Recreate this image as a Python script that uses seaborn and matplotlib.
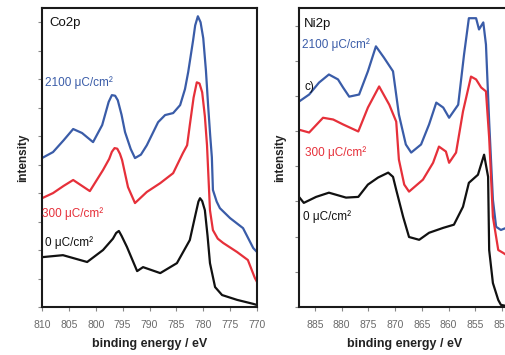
import matplotlib
matplotlib.use("Agg")
import matplotlib.pyplot as plt
import seaborn as sns
import pandas as pd

# ---------------- data: Co2p ----------------
co_blue_e = [810.0, 807.95, 806.0, 804.2, 802.55, 800.5, 798.8, 797.6, 797.0, 796.4, 795.9, 795.2,
             794.55, 793.5, 792.7, 791.6, 790.5, 788.4, 787.1, 785.6, 784.3, 783.4, 782.8, 781.9,
             781.5, 781.0, 780.5, 780.0, 779.5, 779.1, 778.7, 778.4, 778.2, 777.5, 776.9, 775.0,
             772.6, 770.7, 770.0]
co_blue_i = [5.23, 5.44, 5.85, 6.25, 6.11, 5.79, 6.39, 7.2, 7.44, 7.42, 7.26, 6.75,
             6.14, 5.55, 5.23, 5.35, 5.68, 6.49, 6.74, 6.81, 7.09, 7.65, 8.25, 9.35,
             9.89, 10.21, 10.0, 9.44, 8.3, 7.09, 6.0, 5.26, 4.11, 3.7, 3.47, 3.12,
             2.77, 2.07, 1.93]

co_red_e = [810.0, 807.95, 806.0, 804.2, 801.1, 798.65, 797.5, 797.0, 796.5, 796.0, 795.5, 795.1,
            794.0, 792.7, 790.5, 788.0, 785.6, 783.8, 783.0, 782.5, 781.8, 781.2, 780.7, 780.2,
            779.7, 779.3, 778.75, 778.2, 777.3, 776.3, 773.7, 771.7, 770.4, 770.0]
co_red_i = [3.82, 4.00, 4.25, 4.46, 4.07, 4.81, 5.2, 5.45, 5.58, 5.56, 5.38, 5.16,
            4.21, 3.65, 4.04, 4.35, 4.70, 5.40, 5.68, 6.39, 7.35, 7.89, 7.85, 7.54,
            6.7, 5.68, 3.40, 2.70, 2.4, 2.25, 1.93, 1.65, 1.02, 0.88]

co_black_e = [810.0, 806.1, 801.6, 798.65, 796.8, 796.2, 795.7, 795.2, 794.2, 792.3, 791.2, 788.0,
              784.9, 782.5, 781.5, 780.9, 780.6, 780.2, 779.7, 779.2, 778.75, 777.8, 776.5, 773.7,
              770.7, 770.0]
co_black_i = [1.75, 1.82, 1.58, 2.00, 2.4, 2.6, 2.67, 2.5, 2.11, 1.26, 1.40, 1.19,
              1.54, 2.35, 3.2, 3.7, 3.82, 3.72, 3.40, 2.5, 1.54, 0.70, 0.42, 0.25,
              0.11, 0.07]

# ---------------- data: Ni2p ----------------
ni_blue_e = [888.0, 886.1, 884.25, 882.4, 880.7, 879.75, 878.6, 876.75, 875.1, 873.6, 872.1, 870.4,
             869.3, 868.0, 867.0, 865.15, 863.65, 862.3, 861.0, 859.9, 858.2, 857.1, 856.2, 854.85,
             854.3, 853.5, 853.0, 852.4, 851.7, 851.1, 850.2, 849.2, 848.5]
ni_blue_i = [5.84, 6.04, 6.38, 6.61, 6.47, 6.24, 5.98, 6.04, 6.70, 7.41, 7.09, 6.70,
             5.47, 4.62, 4.39, 4.62, 5.19, 5.81, 5.67, 5.38, 5.75, 7.18, 8.21, 8.21,
             7.89, 8.09, 7.46, 5.27, 3.05, 2.28, 2.19, 2.25, 2.25]

ni_red_e = [888.0, 886.1, 883.5, 881.6, 879.75, 876.9, 875.1, 873.0, 871.1, 869.8, 869.3, 868.3,
            867.4, 864.8, 862.9, 861.8, 860.5, 859.9, 858.6, 857.3, 855.8, 854.85, 853.9, 853.0,
            852.4, 851.7, 850.7, 849.8, 849.2, 848.5]
ni_red_i = [5.04, 4.96, 5.38, 5.33, 5.19, 4.99, 5.67, 6.27, 5.75, 5.27, 4.19, 3.48,
            3.28, 3.62, 4.10, 4.56, 4.42, 4.10, 4.39, 5.56, 6.55, 6.47, 6.24, 6.13,
            4.81, 2.56, 1.62, 1.54, 1.48, 1.48]

ni_black_e = [888.0, 887.1, 884.8, 882.4, 879.2, 876.9, 875.1, 873.2, 871.3, 870.4, 869.8, 868.5,
              867.4, 865.5, 863.65, 861.0, 859.0, 857.3, 856.2, 854.5, 853.35, 852.6, 852.4, 851.7,
              850.7, 850.2, 849.2, 848.5]
ni_black_i = [3.13, 2.96, 3.13, 3.25, 3.11, 3.13, 3.48, 3.68, 3.82, 3.70, 3.33, 2.56,
              1.99, 1.91, 2.11, 2.25, 2.34, 2.85, 3.53, 3.76, 4.33, 3.70, 1.62, 0.68,
              0.20, 0.06, 0.03, 0.03]

dose_labels = ["2100 μC/cm²", "300 μC/cm²", "0 μC/cm²"]
co_ticks = [810, 805, 800, 795, 790, 785, 780, 775, 770]
ni_ticks = [885, 880, 875, 870, 865, 860, 855, 850]

BLUE = "#3a5ca8"
RED = "#e6303a"
BLACK = "#111111"

sns.set_style("ticks")
plt.rcParams["font.family"] = ["Liberation Sans", "DejaVu Sans"]

W, H = 506, 355
fig = plt.figure(figsize=(W / 100, H / 100), dpi=100)

def frac(px0, py_top, px1, py_bot):
    return [px0 / W, 1 - py_bot / H, (px1 - px0) / W, (py_bot - py_top) / H]

ax1 = fig.add_axes(frac(42, 8, 257, 307))
ax2 = fig.add_axes(frac(299, 8, 510, 307))

lw = 1.6
for ax, sets in [
    (ax1, [(co_blue_e, co_blue_i, BLUE), (co_red_e, co_red_i, RED), (co_black_e, co_black_i, BLACK)]),
    (ax2, [(ni_blue_e, ni_blue_i, BLUE), (ni_red_e, ni_red_i, RED), (ni_black_e, ni_black_i, BLACK)]),
]:
    for e, i, c in sets:
        df = pd.DataFrame({"e": e, "i": i})
        sns.lineplot(data=df, x="e", y="i", sort=False, estimator=None, color=c, lw=lw, ax=ax)

ax1.set_xlim(810, 770)
ax1.set_ylim(0, 10.5)
ax1.set_xticks(co_ticks)
ax1.set_yticks(range(0, 11))
ax2.set_xlim(888, 848.5)
ax2.set_ylim(0, 8.5)
ax2.set_xticks(ni_ticks)
ax2.set_yticks(range(0, 9))

for ax in (ax1, ax2):
    ax.set_yticklabels([])
    for s in ax.spines.values():
        s.set_linewidth(1.5)
        s.set_color("#1a1a1a")
    ax.tick_params(axis="x", direction="out", length=3, width=0.8, color="#888888",
                   labelsize=7.5, labelcolor="#6a6a6a", pad=6)
    ax.tick_params(axis="y", direction="out", length=3, width=0.8, color="#888888")
    ax.set_xlabel("binding energy / eV", fontsize=9, fontweight="bold", color="#222222", labelpad=6)
    ax.set_ylabel("intensity", fontsize=8.5, fontweight="bold", color="#222222", labelpad=3)

# annotations Co2p
ax1.text(0.033, 0.95, "Co2p", transform=ax1.transAxes, fontsize=9.5, color=BLACK, va="center")
ax1.text(0.014, 0.749, dose_labels[0], transform=ax1.transAxes, fontsize=8.5, color=BLUE, va="center")
ax1.text(0.0, 0.314, dose_labels[1], transform=ax1.transAxes, fontsize=8.5, color=RED, va="center")
ax1.text(0.014, 0.214, dose_labels[2], transform=ax1.transAxes, fontsize=8.5, color=BLACK, va="center")

# annotations Ni2p
ax2.text(0.024, 0.946, "Ni2p", transform=ax2.transAxes, fontsize=9.5, color=BLACK, va="center")
ax2.text(0.014, 0.876, dose_labels[0], transform=ax2.transAxes, fontsize=8.5, color=BLUE, va="center")
ax2.text(0.024, 0.736, "c)", transform=ax2.transAxes, fontsize=8.5, color=BLACK, va="center")
ax2.text(0.028, 0.518, dose_labels[1], transform=ax2.transAxes, fontsize=8.5, color=RED, va="center")
ax2.text(0.019, 0.301, dose_labels[2], transform=ax2.transAxes, fontsize=8.5, color=BLACK, va="center")

fig.savefig("out.png", dpi=100)
